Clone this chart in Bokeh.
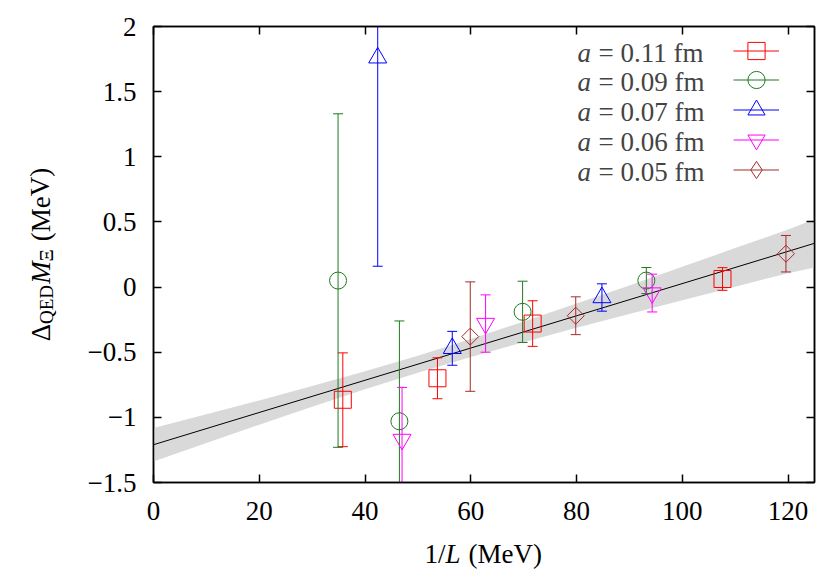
from bokeh.plotting import figure
from bokeh.models import (Range1d, LinearAxis, FixedTicker, Label, Legend, LegendItem,
                          ColumnDataSource, CustomJSTickFormatter)
from bokeh.layouts import column, row
from bokeh.embed import file_html
from bokeh.resources import INLINE
from bokeh.core.properties import value

# ---------------- data ----------------
series_a = ["0.11", "0.09", "0.07", "0.06", "0.05"]

x_011 = [35.8, 53.7, 71.7, 107.6]
y_011 = [-0.865, -0.70, -0.28, 0.062]
e_011 = [0.36, 0.157, 0.175, 0.087]

x_009 = [34.9, 46.5, 69.8, 93.2]
y_009 = [0.05, -1.03, -0.19, 0.05]
e_009 = [1.28, 0.77, 0.235, 0.10]

x_007 = [42.4, 56.5, 84.8]
y_007 = [1.76, -0.47, -0.08]
e_007 = [1.60, 0.13, 0.105]

x_006 = [47.0, 62.8, 94.3]
y_006 = [-1.17, -0.28, -0.046]
e_006 = [0.40, 0.22, 0.145]

x_005 = [59.9, 79.85, 119.6]
y_005 = [-0.38, -0.22, 0.256]
e_005 = [0.42, 0.145, 0.14]

fit_x = [0, 125]
fit_y = [-1.21, 0.336]

band_x = [0, 10, 20, 30, 40, 50, 60, 70, 80, 90, 100, 110, 120, 125]
band_lo = [-1.338, -1.196, -1.056, -0.918, -0.784, -0.657, -0.537, -0.423, -0.313, -0.207, -0.102, 0.003, 0.106, 0.151]
band_hi = [-1.082, -0.976, -0.870, -0.760, -0.646, -0.527, -0.399, -0.265, -0.127, 0.013, 0.156, 0.299, 0.442, 0.521]

x_ticks = [0, 20, 40, 60, 80, 100, 120]
y_ticks = [-1.5, -1, -0.5, 0, 0.5, 1, 1.5, 2]

# ---------------- styling ----------------
FONT = "Liberation Serif"
FS = "27px"
SUB = "19px"
colors = ["#ff0000", "#1f7a1f", "#0000ff", "#ff00ff", "#a52a2a"]
markers = ["square", "circle", "triangle", "inverted_triangle", "square"]
legend_markers = ["square", "circle", "triangle", "inverted_triangle", "diamond"]
sizes = [17, 17, 18, 18, 12]
angles = [0, 0, 0, 0, 0.785398]

LEFT_W = 80
MAIN_W = 742
MAIN_H = 534
BORDER_B = 52
BOT_H = 45
FRAME_TOP = 26
FRAME_BOTTOM = MAIN_H - BORDER_B

p = figure(width=MAIN_W, height=MAIN_H, x_range=Range1d(0, 125), y_range=Range1d(-1.5, 2),
           output_backend="svg", toolbar_location=None,
           min_border_left=73, min_border_right=8, min_border_top=FRAME_TOP,
           min_border_bottom=BORDER_B)
p.xgrid.visible = False
p.ygrid.visible = False
p.outline_line_color = "black"
p.outline_line_width = 1.5

minus_fmt = CustomJSTickFormatter(code="return tick < 0 ? '\u2212' + String(-tick) : String(tick);")
blank_fmt = CustomJSTickFormatter(code="return '';")

for ax in (p.xaxis[0], p.yaxis[0]):
    ax.major_tick_in = 8
    ax.major_tick_out = 0
    ax.minor_tick_in = 0
    ax.minor_tick_out = 0
    ax.axis_line_width = 1.5
    ax.major_tick_line_width = 1.5
    ax.major_label_text_font = FONT
    ax.major_label_text_font_size = FS
    ax.major_label_text_color = "black"
p.xaxis[0].ticker = FixedTicker(ticks=x_ticks)
p.yaxis[0].ticker = FixedTicker(ticks=y_ticks)
p.yaxis[0].formatter = minus_fmt
p.xaxis[0].major_label_standoff = 19
p.yaxis[0].major_label_standoff = 17

for side, ticks in (("above", x_ticks), ("right", y_ticks)):
    ax = LinearAxis(ticker=FixedTicker(ticks=ticks), formatter=blank_fmt,
                    major_tick_in=8, major_tick_out=0, minor_tick_in=0, minor_tick_out=0,
                    axis_line_width=1.5, major_tick_line_width=1.5,
                    major_label_standoff=0, major_label_text_font_size="1px")
    p.add_layout(ax, side)

# fit band and line
p.varea(x=band_x, y1=band_lo, y2=band_hi, fill_color="#d9d9d9")
p.line(fit_x, fit_y, line_color="black", line_width=1)

all_series = [(x_011, y_011, e_011), (x_009, y_009, e_009), (x_007, y_007, e_007),
              (x_006, y_006, e_006), (x_005, y_005, e_005)]

GH = 43
for i, (xs, ys, es) in enumerate(all_series):
    src = ColumnDataSource(dict(x=xs, y=ys,
                                lo=[a - b for a, b in zip(ys, es)],
                                hi=[a + b for a, b in zip(ys, es)]))
    c = colors[i]
    seg = p.segment(x0="x", y0="lo", x1="x", y1="hi", source=src, line_color=c, line_width=1)
    p.scatter(x="x", y="lo", source=src, marker="dash", size=10, line_color=c, line_width=1)
    p.scatter(x="x", y="hi", source=src, marker="dash", size=10, line_color=c, line_width=1)
    mk = p.scatter(x="x", y="y", source=src, marker=markers[i], size=sizes[i], angle=angles[i],
                   fill_color=None, line_color=c, line_width=1)
    leg_mk = mk
    if legend_markers[i] != markers[i]:
        # zero-size twin: draws nothing on the plot, only supplies the diamond key
        leg_mk = p.scatter(x="x", y="y", source=src, marker=legend_markers[i], size=0,
                           fill_color=None, line_color=c, line_width=1)
    # one-entry legend per series (gnuplot style: sample to the right of the text)
    row_center = 50 + 29.9 * i
    leg = Legend(items=[LegendItem(label=value(""), renderers=[seg, leg_mk])],
                 location=(580, FRAME_BOTTOM - row_center - GH / 2),
                 border_line_color=None, background_fill_alpha=0, padding=0, margin=0,
                 glyph_width=46, glyph_height=GH, label_width=0, label_height=GH,
                 label_standoff=0, spacing=0, label_text_font_size="1px")
    p.add_layout(leg, "center")
    yb = FRAME_BOTTOM - (52 + 29.9 * i)
    p.add_layout(Label(x=424, y=yb, x_units="screen", y_units="screen", text="a",
                       text_font=FONT, text_font_size=FS, text_font_style="italic",
                       text_baseline="alphabetic", text_align="left"))
    p.add_layout(Label(x=445, y=yb, x_units="screen", y_units="screen", text="= " + series_a[i] + " fm",
                       text_font=FONT, text_font_size=FS,
                       text_baseline="alphabetic", text_align="left"))


def helper(w, h, yr):
    f = figure(width=w, height=h, x_range=Range1d(0, w), y_range=yr,
               output_backend="svg", toolbar_location=None, x_axis_type=None, y_axis_type=None,
               min_border=0, title=None)
    f.outline_line_color = None
    f.grid.visible = False
    return f


# y axis title: Delta_QED M_Xi (MeV); the strip's frame is aligned with the main frame,
# so its y range is set to page pixels (top-down)
yl = helper(LEFT_W, MAIN_H, Range1d(FRAME_BOTTOM, FRAME_TOP))
ybase = 40
for txt, yy, fs, style, dx in (("\u0394", 332, FS, "normal", 0), ("QED", 304, SUB, "normal", 6),
                               ("M", 272, FS, "italic", 0), ("\u039e", 255, SUB, "normal", 6),
                               ("(MeV)", 204, FS, "normal", 0)):
    yl.text(x=[ybase + dx], y=[yy], text=[txt], angle=1.5708, text_font=value(FONT),
            text_font_size=value(fs), text_font_style=value(style),
            text_baseline="middle", text_align="center", text_color="black")

# x axis title: 1/L (MeV)
xl = helper(LEFT_W + MAIN_W, BOT_H, Range1d(BOT_H, 0))
for txt, xx, style in (("1/", 424, "normal"), ("L", 445, "italic"), ("(MeV)", 468, "normal")):
    xl.text(x=[xx], y=[19], text=[txt], text_font=value(FONT), text_font_size=value(FS),
            text_font_style=value(style), text_baseline="middle", text_align="left",
            text_color="black")

layout = column(row(yl, p, spacing=0), xl, spacing=0)
open("out.html", "w").write(file_html(layout, INLINE))
